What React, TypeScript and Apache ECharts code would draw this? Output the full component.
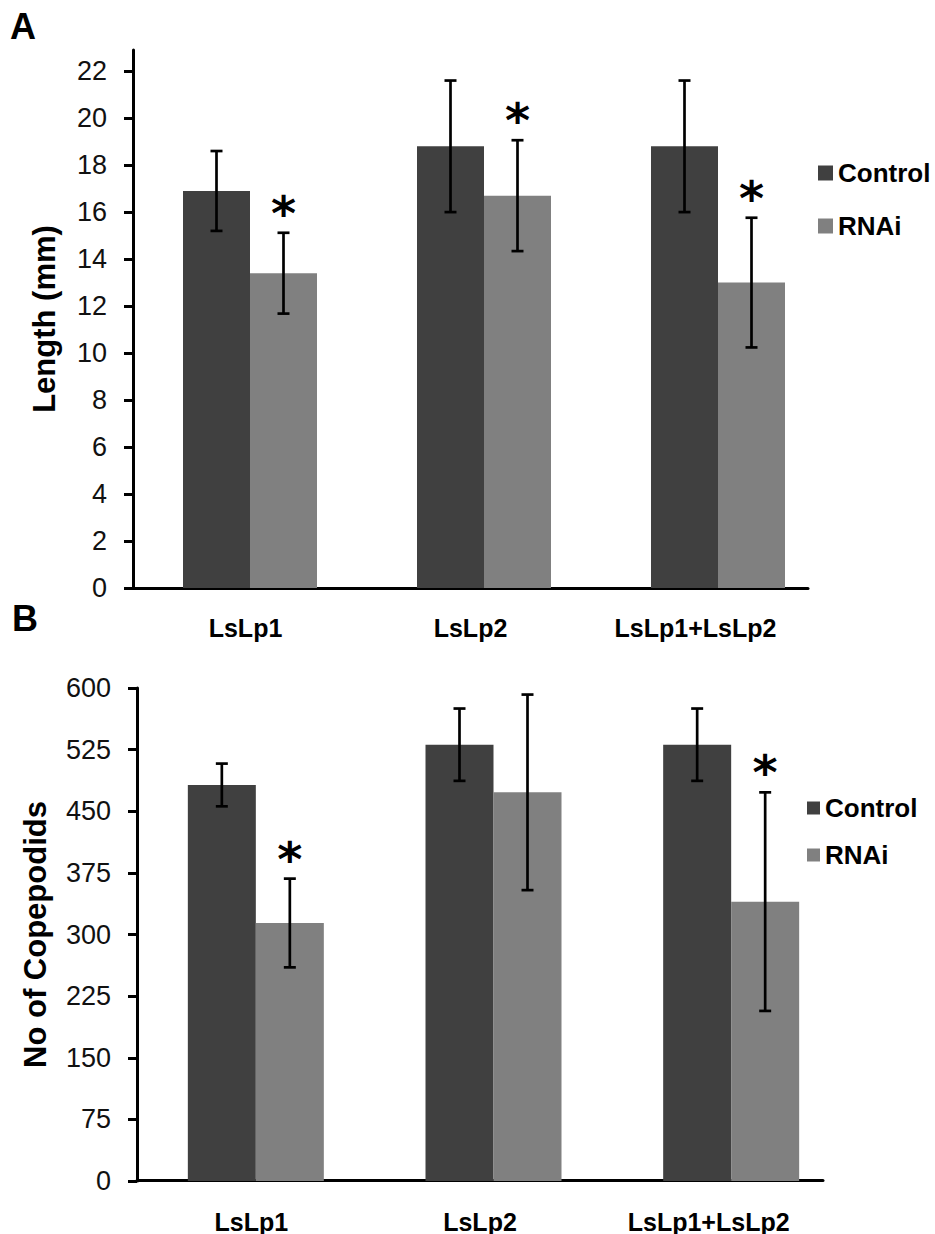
import React, { useEffect, useRef } from "react";
import * as echarts from "echarts";

// ---------- data ----------
const categories = ["LsLp1", "LsLp2", "LsLp1+LsLp2"];
const seriesNames = ["Control", "RNAi"];

// Panel A: Length (mm)
const lengthControl = [16.9, 18.8, 18.8];
const lengthControlErr = [1.7, 2.8, 2.8];
const lengthRNAi = [13.4, 16.7, 13.0];
const lengthRNAiErr = [1.72, 2.36, 2.76];
const lengthSignificant = [1, 1, 1];
const lengthTicks = [0, 2, 4, 6, 8, 10, 12, 14, 16, 18, 20, 22];

// Panel B: No of Copepodids
const copControl = [482, 531, 531];
const copControlErr = [26, 44, 44];
const copRNAi = [314, 473, 340];
const copRNAiErr = [54, 119, 133];
const copSignificant = [1, 0, 1];
const copTicks = [0, 75, 150, 225, 300, 375, 450, 525, 600];

// ---------- styles ----------
const FONT = "Liberation Sans, Arial, sans-serif";
const DARK = "#404040";
const LIGHT = "#808080";

function errorData(values: number[], errs: number[], side: number, sig?: number[]) {
  return values.map((v, i) => [i, v, errs[i], side, sig ? sig[i] : 0]);
}

function errorRenderer(barWidth: number) {
  return (params: any, api: any) => {
    const idx = api.value(0);
    const v = api.value(1);
    const e = api.value(2);
    const side = api.value(3);
    const sig = api.value(4);
    const top = api.coord([idx, v + e]);
    const bot = api.coord([idx, v - e]);
    const x = top[0] + (side * barWidth) / 2;
    const cap = 6;
    const st = { stroke: "#000", lineWidth: 2.7 };
    const children: any[] = [
      { type: "line", shape: { x1: x, y1: top[1], x2: x, y2: bot[1] }, style: st },
      { type: "line", shape: { x1: x - cap, y1: top[1], x2: x + cap, y2: top[1] }, style: st },
      { type: "line", shape: { x1: x - cap, y1: bot[1], x2: x + cap, y2: bot[1] }, style: st },
    ];
    if (sig) {
      children.push({
        type: "text",
        x: x,
        y: top[1] - 20,
        style: {
          text: "*",
          fontSize: 48,
          fontWeight: "bold",
          fontFamily: "DejaVu Sans",
          textAlign: "center",
          textVerticalAlign: "middle",
          fill: "#000",
        },
      });
    }
    return { type: "group", children };
  };
}

export default function App() {
  const ref = useRef<HTMLDivElement>(null);

  useEffect(() => {
    document.body.style.margin = "0";
    const chart = echarts.init(ref.current!, null, { renderer: "svg" });

    const yAxisBase = (min: number, max: number, ticks: number[], name: string, nameGap: number, gridIndex: number) => ({
      type: "value",
      gridIndex,
      min,
      max,
      splitLine: { show: false },
      axisLine: { show: true, lineStyle: { color: "#000", width: 3 } },
      axisTick: { show: true, length: 9, lineStyle: { color: "#000", width: 3 }, customValues: ticks },
      axisLabel: {
        customValues: ticks,
        fontSize: 27,
        fontFamily: FONT,
        color: "#111",
        margin: 26,
      },
      name,
      nameLocation: "middle",
      nameRotate: 90,
      nameGap,
      nameTextStyle: { fontSize: 31, fontWeight: "bold", fontFamily: FONT, color: "#000" },
    });

    const hiddenY = (gridIndex: number) => ({
      type: "value",
      gridIndex,
      min: 0,
      max: 1,
      show: false,
    });

    const barsX = (gridIndex: number) => ({
      type: "category",
      gridIndex,
      data: categories,
      axisLine: { show: false },
      axisTick: { show: false },
      axisLabel: { show: false },
    });

    const labelsX = (gridIndex: number, margin: number) => ({
      type: "category",
      gridIndex,
      data: categories,
      axisLine: { show: true, onZero: false, lineStyle: { color: "#000", width: 3 } },
      axisTick: { show: false },
      axisLabel: {
        interval: 0,
        fontSize: 25,
        fontWeight: "bold",
        fontFamily: FONT,
        color: "#000",
        margin,
      },
    });

    const BW_A = 67;
    const BW_B = 68;

    const option: any = {
      animation: false,
      backgroundColor: "#fff",
      grid: [
        { left: 133, right: 100, top: 50, bottom: 646 },
        { left: 133, right: 127, top: 50, bottom: 646 },
        { left: 137, right: 85, top: 688, bottom: 53 },
        { left: 137, right: 112, top: 688, bottom: 53 },
      ],
      xAxis: [barsX(0), labelsX(1, 27), barsX(2), labelsX(3, 29)],
      yAxis: [
        yAxisBase(0, 22.9, lengthTicks, "Length (mm)", 73, 0),
        hiddenY(1),
        yAxisBase(0, 600, copTicks, "No of Copepodids", 86, 2),
        hiddenY(3),
      ],
      legend: [
        {
          data: seriesNames,
          orient: "vertical",
          left: 818,
          top: 160,
          icon: "rect",
          itemWidth: 15,
          itemHeight: 15,
          itemGap: 27,
          padding: 0,
          selectedMode: false,
          textStyle: { fontSize: 26, lineHeight: 26, fontWeight: "bold", fontFamily: FONT, color: "#000" },
        },
        {
          data: seriesNames,
          orient: "vertical",
          left: 807,
          top: 795,
          icon: "rect",
          itemWidth: 13,
          itemHeight: 13,
          itemGap: 21,
          padding: 0,
          selectedMode: false,
          textStyle: { fontSize: 26, lineHeight: 26, fontWeight: "bold", fontFamily: FONT, color: "#000" },
        },
      ],
      graphic: [
        {
          type: "text",
          left: 10,
          top: 8,
          style: { text: "A", fontSize: 36, fontWeight: "bold", fontFamily: FONT, fill: "#000" },
        },
        {
          type: "text",
          left: 12,
          top: 600,
          style: { text: "B", fontSize: 36, fontWeight: "bold", fontFamily: FONT, fill: "#000" },
        },
      ],
      series: [
        {
          name: "Control",
          type: "bar",
          xAxisIndex: 0,
          yAxisIndex: 0,
          data: lengthControl,
          barWidth: BW_A,
          barGap: "0%",
          itemStyle: { color: DARK },
        },
        {
          name: "RNAi",
          type: "bar",
          xAxisIndex: 0,
          yAxisIndex: 0,
          data: lengthRNAi,
          barWidth: BW_A,
          barGap: "0%",
          itemStyle: { color: LIGHT },
        },
        {
          type: "custom",
          xAxisIndex: 0,
          yAxisIndex: 0,
          renderItem: errorRenderer(BW_A),
          data: [
            ...errorData(lengthControl, lengthControlErr, -1),
            ...errorData(lengthRNAi, lengthRNAiErr, 1, lengthSignificant),
          ],
          z: 5,
          silent: true,
        },
        {
          name: "Control",
          type: "bar",
          xAxisIndex: 2,
          yAxisIndex: 2,
          data: copControl,
          barWidth: BW_B,
          barGap: "0%",
          itemStyle: { color: DARK },
        },
        {
          name: "RNAi",
          type: "bar",
          xAxisIndex: 2,
          yAxisIndex: 2,
          data: copRNAi,
          barWidth: BW_B,
          barGap: "0%",
          itemStyle: { color: LIGHT },
        },
        {
          type: "custom",
          xAxisIndex: 2,
          yAxisIndex: 2,
          renderItem: errorRenderer(BW_B),
          data: [
            ...errorData(copControl, copControlErr, -1),
            ...errorData(copRNAi, copRNAiErr, 1, copSignificant),
          ],
          z: 5,
          silent: true,
        },
      ],
    };

    chart.setOption(option);
    return () => chart.dispose();
  }, []);

  return <div ref={ref} style={{ width: 935, height: 1234 }} />;
}
